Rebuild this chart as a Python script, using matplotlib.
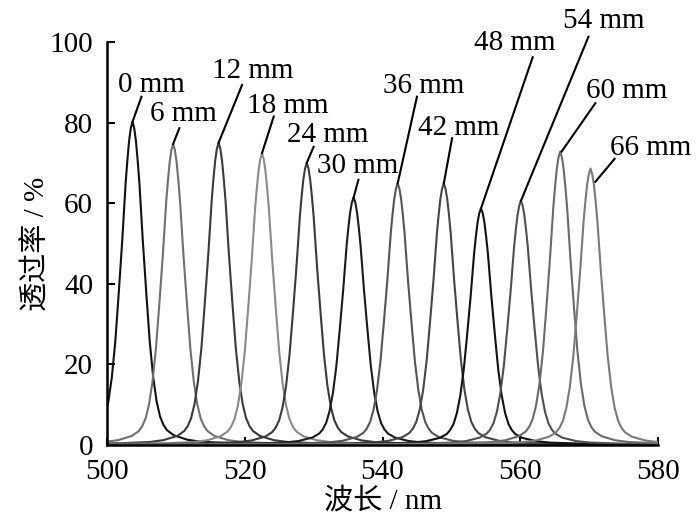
import numpy as np
import matplotlib
matplotlib.use("Agg")
import matplotlib.pyplot as plt

plt.rcParams['font.family'] = ['Liberation Serif', 'Noto Sans CJK SC']
plt.rcParams['font.size'] = 21

# peak data
labels = ['0 mm', '6 mm', '12 mm', '18 mm', '24 mm', '30 mm',
          '36 mm', '42 mm', '48 mm', '54 mm', '60 mm', '66 mm']
centers = [503.7, 509.6, 516.2, 522.5, 529.0, 535.8,
           542.2, 548.9, 554.3, 560.1, 565.8, 570.2]
heights = [80.2, 74.7, 75.0, 72.4, 70.0, 61.4,
           64.9, 64.9, 58.7, 60.6, 72.8, 68.6]

# common peak shape (offset in nm, fraction of peak)
shape_dx = [0, 0.25, 0.5, 0.75, 1.0, 1.25, 1.5, 1.75, 2.0, 2.5, 3.0, 3.5,
            4.0, 4.5, 5.0, 6.0, 8.0, 10.0, 14.0, 20.0, 40.0, 80.0]
shape_rel = [1.0, 0.98, 0.94, 0.88, 0.81, 0.72, 0.63, 0.55, 0.47, 0.32, 0.21,
             0.135, 0.088, 0.062, 0.046, 0.03, 0.016, 0.01, 0.006, 0.004,
             0.002, 0.001]

colors = ['#111111', '#707070', '#3a3a3a', '#8a8a8a', '#3a3a3a', '#1a1a1a',
          '#555555', '#454545', '#111111', '#505050', '#6a6a6a', '#7a7a7a']

# label layout (data coords): text baseline centre, leader start, leader tip shift
text_x = [506.4, 511.1, 521.1, 526.2, 532.0, 536.4, 546.0, 551.1, 559.2, 572.1, 575.4, 579.0]
text_y = [87.6, 80.4, 91.1, 82.4, 75.2, 67.5, 87.3, 76.9, 98.0, 103.5, 86.1, 72.0]
lead_x = [505.0, 510.5, 519.6, 524.2, 530.0, 536.5, 545.0, 550.1, 561.8, 569.9, 570.9, 573.7]
lead_y = [86.4, 78.6, 89.3, 81.5, 74.0, 65.8, 86.4, 76.1, 96.2, 101.3, 84.8, 71.0]
tip_dx = [0, 0, 0, 0, 0, 0, 0, 0, 0, 0, 0.2, 0.7]
tip_dy = [0, 0, 0, 0, 0, 0, 0, 0, 0, 0, 0, -3.3]

dx = np.array(shape_dx)
rel = np.array(shape_rel)
dx_full = np.concatenate([-dx[::-1], dx[1:]])
rel_full = np.concatenate([rel[::-1], rel[1:]])

fig = plt.figure(figsize=(7, 5.24), dpi=100)
ax = fig.add_axes([0.1529, 0.1508, 0.7871, 0.7691])

for c, h, col in zip(centers, heights, colors):
    ax.plot(c + dx_full, h * rel_full, color=col, lw=1.5)

for i, lab in enumerate(labels):
    ax.plot([lead_x[i], centers[i] + tip_dx[i]], [lead_y[i], heights[i] + tip_dy[i]],
            color='black', lw=1.5, clip_on=False)
    ax.text(text_x[i], text_y[i], lab, ha='center', va='baseline', clip_on=False)

ax.set_xlim(500, 580)
ax.set_ylim(0, 100)
ax.set_xticks([500, 520, 540, 560, 580])
ax.set_yticks([0, 20, 40, 60, 80, 100])
ax.tick_params(direction='in', length=6, width=1.5, pad=10)
for s in ['top', 'right']:
    ax.spines[s].set_visible(False)
for s in ['left', 'bottom']:
    ax.spines[s].set_linewidth(1.8)

ax.set_xlabel('波长 / nm', labelpad=2)
ax.set_ylabel('透过率 / %', labelpad=-1)

fig.savefig('out.png', dpi=100)
